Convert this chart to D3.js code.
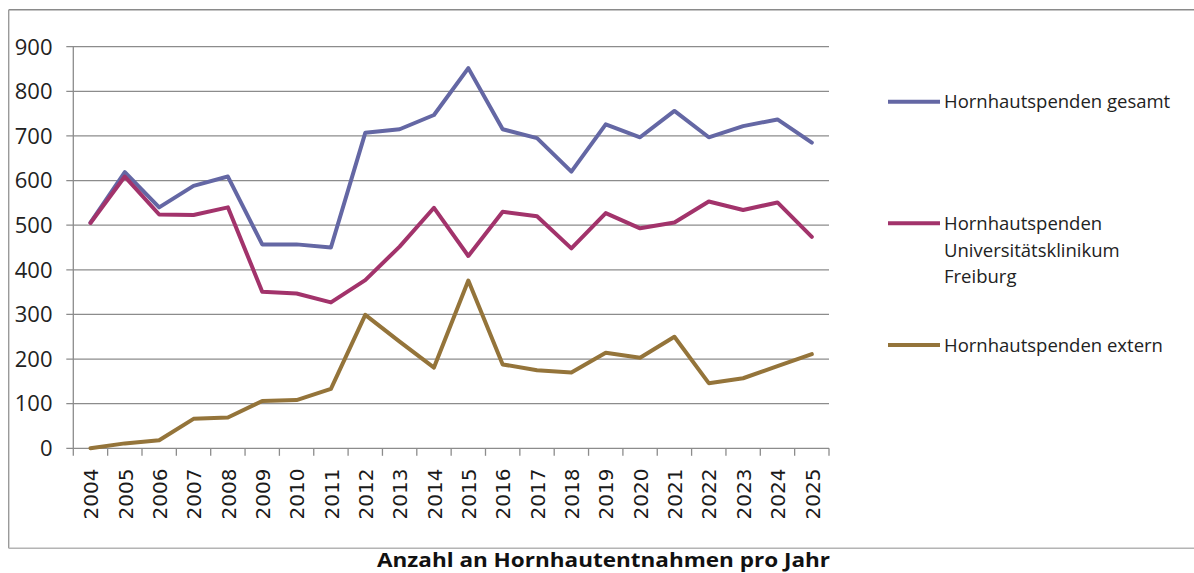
<!DOCTYPE html>
<html>
<head>
<meta charset="utf-8">
<script src="https://cdn.jsdelivr.net/npm/d3@7"></script>
<style>
  html, body { margin: 0; padding: 0; background: #ffffff; }
  svg { display: block; }
</style>
</head>
<body>
<div id="chart"></div>
<script>
// Jahre der Hornhautentnahmen
const years = ["2004","2005","2006","2007","2008","2009","2010","2011","2012","2013","2014",
               "2015","2016","2017","2018","2019","2020","2021","2022","2023","2024","2025"];

// Anzahl Hornhautspenden je Jahr
const gesamt = [506, 619, 540, 588, 609, 457, 457, 450, 707, 715, 747,
                852, 715, 695, 620, 726, 697, 756, 697, 722, 737, 685];
const uniklinik = [505, 609, 524, 523, 540, 351, 347, 327, 377, 452, 539,
                   431, 530, 520, 448, 527, 493, 506, 553, 534, 551, 474];
const extern = [0, 11, 18, 66, 69, 106, 108, 133, 299, 239, 181,
                376, 188, 175, 170, 214, 203, 250, 146, 157, 184, 211];

const yTicks = [0, 100, 200, 300, 400, 500, 600, 700, 800, 900];

const seriesNames = ["Hornhautspenden gesamt",
                     "Hornhautspenden Universitätsklinikum Freiburg",
                     "Hornhautspenden extern"];
const seriesLegendLines = [["Hornhautspenden gesamt"],
                           ["Hornhautspenden", "Universitätsklinikum", "Freiburg"],
                           ["Hornhautspenden extern"]];
const seriesColors = ["#6467a4", "#a2336b", "#94743a"];
const title = "Anzahl an Hornhautentnahmen pro Jahr";

const W = 1194, H = 573;
const plot = { left: 73.3, right: 829, top: 46.7, bottom: 448.3 };

const svg = d3.select("#chart").append("svg")
  .attr("width", W).attr("height", H);

// outer frame (open on the right side)
const frame = svg.append("g");
frame.append("line").attr("x1", 8.7).attr("x2", W).attr("y1", 9.7).attr("y2", 9.7)
  .attr("stroke", "#8a8a8a").attr("stroke-width", 1.4);
frame.append("line").attr("x1", 8.7).attr("x2", 8.7).attr("y1", 9.7).attr("y2", 548.3)
  .attr("stroke", "#9a9a9a").attr("stroke-width", 1.4);
frame.append("line").attr("x1", 8.7).attr("x2", W).attr("y1", 548.3).attr("y2", 548.3)
  .attr("stroke", "#b4b4b4").attr("stroke-width", 1.4);

const x = d3.scaleBand().domain(years).range([plot.left, plot.right]);
const y = d3.scaleLinear().domain([0, 900]).range([plot.bottom, plot.top]);

// horizontal gridlines with left tick stubs
const gy = svg.append("g").attr("transform", `translate(${plot.left},0)`);
gy.selectAll("line").data(yTicks).join("line")
  .attr("x1", -7).attr("x2", plot.right - plot.left)
  .attr("y1", d => y(d)).attr("y2", d => y(d))
  .attr("stroke", "#8c8c8c").attr("stroke-width", 1.3);

// vertical axis line
svg.append("line")
  .attr("x1", plot.left).attr("x2", plot.left)
  .attr("y1", plot.top).attr("y2", plot.bottom)
  .attr("stroke", "#8c8c8c").attr("stroke-width", 1.3);

// y tick labels
svg.append("g").selectAll("text").data(yTicks).join("text")
  .attr("x", 52.5)
  .attr("y", d => y(d) + 7.8)
  .attr("text-anchor", "end")
  .attr("font-family", "'Open Sans', sans-serif")
  .attr("font-size", 22)
  .attr("fill", "#222")
  .text(d => d);

// x axis: category boundary ticks
const gx = svg.append("g").attr("transform", `translate(0,${plot.bottom})`);
const boundaries = years.map(yr => x(yr)).concat([x(years[years.length - 1]) + x.bandwidth()]);
gx.selectAll("line.bound").data(boundaries).join("line")
  .attr("class", "bound")
  .attr("x1", d => d).attr("x2", d => d)
  .attr("y1", 0).attr("y2", 7.5)
  .attr("stroke", "#8c8c8c").attr("stroke-width", 1.3);

// rotated year labels
svg.append("g").selectAll("text").data(years).join("text")
  .attr("transform", d => `translate(${x(d) + x.bandwidth() / 2 + 0.5},468.5) rotate(-90)`)
  .attr("text-anchor", "end")
  .attr("dy", "0.36em")
  .attr("font-family", "'DejaVu Sans', sans-serif")
  .attr("font-size", 20)
  .attr("fill", "#1a1a1a")
  .text(d => d);

// series lines
const allSeries = [gesamt, uniklinik, extern];
const line = d3.line()
  .x((d, i) => x(years[i]) + x.bandwidth() / 2)
  .y(d => y(d));
svg.append("g").selectAll("path").data(allSeries).join("path")
  .attr("d", d => line(d))
  .attr("fill", "none")
  .attr("stroke", (d, i) => seriesColors[i])
  .attr("stroke-width", 4)
  .attr("stroke-linejoin", "round")
  .attr("stroke-linecap", "round");

// legend
const legendY = [101.7, 223.3, 345];
const legend = svg.append("g");
seriesNames.forEach((name, i) => {
  const g = legend.append("g").attr("transform", `translate(0,${legendY[i]})`);
  g.append("line").attr("x1", 888).attr("x2", 940).attr("y1", 0).attr("y2", 0)
    .attr("stroke", seriesColors[i]).attr("stroke-width", 4);
  g.selectAll("text").data(seriesLegendLines[i]).join("text")
    .attr("x", 944)
    .attr("y", (d, k) => 6.6 + k * 26.7)
    .attr("font-family", "'Open Sans', sans-serif")
    .attr("font-size", 18.5)
    .attr("fill", "#222")
    .text(d => d);
});

// chart title
svg.append("text")
  .attr("x", 603.5).attr("y", 567)
  .attr("text-anchor", "middle")
  .attr("font-family", "'Open Sans', sans-serif")
  .attr("font-weight", 700)
  .attr("font-size", 20)
  .attr("textLength", 453)
  .attr("lengthAdjust", "spacingAndGlyphs")
  .attr("fill", "#111")
  .text(title);
</script>
</body>
</html>
